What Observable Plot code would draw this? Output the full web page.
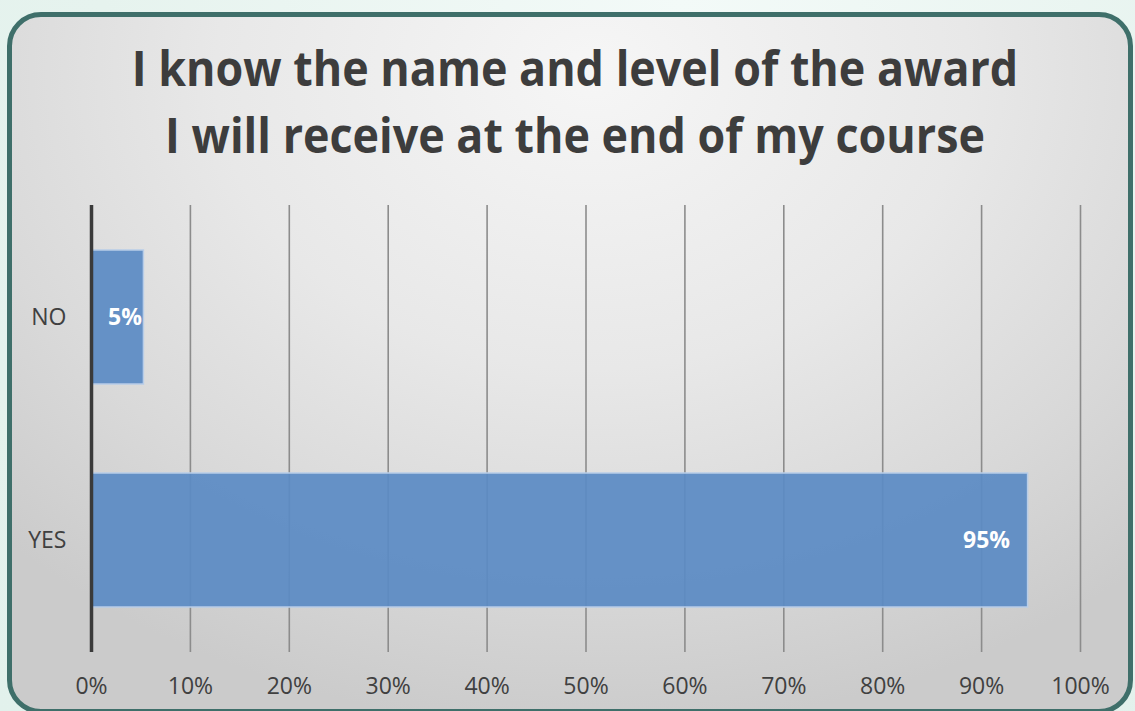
<!DOCTYPE html>
<html>
<head>
<meta charset="utf-8">
<script src="https://cdn.jsdelivr.net/npm/d3@7"></script>
<script src="https://cdn.jsdelivr.net/npm/@observablehq/plot@0.6"></script>
<style>
  html, body { margin: 0; padding: 0; }
  body {
    width: 1135px; height: 711px; overflow: hidden; position: relative;
    background: radial-gradient(ellipse at 60% 0%, #f3faf8 0%, #e6f3ee 60%, #e2f1ec 100%);
    font-family: "Open Sans", sans-serif;
  }
  #box {
    position: absolute; left: 7px; top: 12px; width: 1126px; height: 702px;
    box-sizing: border-box; border: 5px solid #3f6f6a; border-radius: 34px;
    background: radial-gradient(ellipse 75% 95% at 52% 8%, #f6f6f6 0%, #e8e8e8 45%, #d9d9d9 75%, #cbcbcb 100%);
  }
  #title {
    position: absolute; left: 0; top: 34px; width: 1150px; text-align: center;
    font-family: "Open Sans", sans-serif; font-weight: 700; font-size: 49px;
    line-height: 67px; color: #3d3d3d;
    transform: scaleX(0.915); transform-origin: 575px 0;
  }
  #chart { position: absolute; left: 0; top: 195px; }
  #chart svg { background: transparent; overflow: visible; }
</style>
</head>
<body>
<div id="box"></div>
<div id="title"></div>
<div id="chart"></div>
<script>
const titleLines = ["I know the name and level of the award", "I will receive at the end of my course"];
const categories = ["NO", "YES"];
const values = [5.3, 94.7];
const valueLabels = ["5%", "95%"];
const xTicks = [0, 10, 20, 30, 40, 50, 60, 70, 80, 90, 100];

document.getElementById("title").innerHTML = titleLines.map(t => `<div>${t}</div>`).join("");

const data = categories.map((c, i) => ({cat: c, value: values[i], label: valueLabels[i]}));

const chart = Plot.plot({
  width: 1135,
  height: 516,
  marginLeft: 91,
  marginRight: 55,
  marginTop: 10,
  marginBottom: 59,
  style: {fontFamily: "Open Sans, sans-serif", fontSize: "23px", color: "#404040", background: "transparent"},
  x: {domain: [0, 100], ticks: xTicks, tickFormat: d => d + "%", tickSize: 0, tickPadding: 25, label: null},
  y: {domain: categories, paddingInner: 0.4, paddingOuter: 0.2, tickSize: 0, tickPadding: 25, label: null},
  marks: [
    Plot.gridX(xTicks, {stroke: "#8c8c8c", strokeOpacity: 1, strokeWidth: 1.6}),
    Plot.barX(data, {x: "value", y: "cat", fill: "#5b8bc4", fillOpacity: 0.93, stroke: "#b8cde8", strokeWidth: 1.5}),
    Plot.ruleX([0], {stroke: "#3a3a3a", strokeWidth: 3.5}),
    Plot.text(data.filter(d => d.cat === "YES"), {x: "value", y: "cat", text: "label", textAnchor: "end", dx: -18, fill: "white", fontWeight: "bold", fontSize: 23}),
    Plot.text(data.filter(d => d.cat === "NO"), {x: "value", y: "cat", text: "label", textAnchor: "end", dx: -2, fill: "white", fontWeight: "bold", fontSize: 23})
  ]
});
document.getElementById("chart").appendChild(chart);
</script>
</body>
</html>
